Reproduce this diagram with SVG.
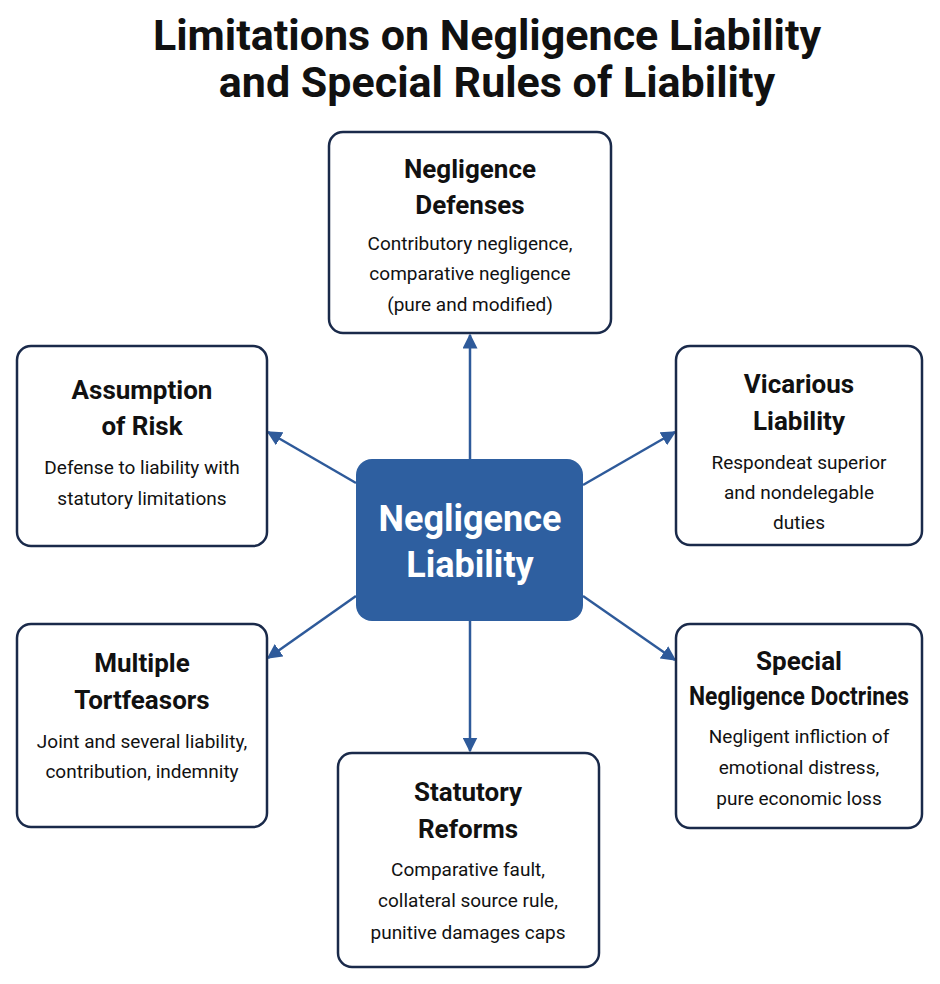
<svg xmlns="http://www.w3.org/2000/svg" width="940" height="984" viewBox="0 0 940 984">
<style>
.box{fill:#fff;stroke:#1a2a4a;stroke-width:2.5}
.t{font-family:Roboto,"Liberation Sans",sans-serif;font-weight:bold;font-size:26px;fill:#111;text-anchor:middle}
.b{font-family:Roboto,"Liberation Sans",sans-serif;font-size:19px;fill:#111;text-anchor:middle}
.h{font-family:Roboto,"Liberation Sans",sans-serif;font-weight:bold;font-size:43px;fill:#111;text-anchor:middle}
.c{stroke:#2e5a9a;stroke-width:2.5;fill:none;marker-end:url(#a)}
</style>
<defs><marker id="a" viewBox="0 0 10 10" refX="9" refY="5" markerWidth="6" markerHeight="6" orient="auto"><path d="M0,0L10,5L0,10z" fill="#2e5a9a"/></marker></defs>
<text class="h" x="487" y="50">Limitations on Negligence Liability</text>
<text class="h" x="497" y="97">and Special Rules of Liability</text>
<g id="connectors">
<line class="c" x1="470" y1="459" x2="470" y2="335"/>
<line class="c" x1="470" y1="621" x2="470" y2="751"/>
<line class="c" x1="356" y1="483" x2="268" y2="432"/>
<line class="c" x1="583" y1="485" x2="675" y2="432"/>
<line class="c" x1="356" y1="596" x2="268" y2="658"/>
<line class="c" x1="583" y1="596" x2="675" y2="660"/>
</g>
<g id="center"><rect x="356" y="459" width="227" height="162" rx="16" fill="#2e5fa0"/>
<text x="470" y="531" font-family="Roboto,'Liberation Sans',sans-serif" font-weight="bold" font-size="36" fill="#fff" text-anchor="middle">Negligence</text>
<text x="470" y="577" font-family="Roboto,'Liberation Sans',sans-serif" font-weight="bold" font-size="36" fill="#fff" text-anchor="middle">Liability</text></g>
<g id="defenses"><rect class="box" x="329" y="132" width="282" height="201" rx="14"/>
<text class="t" x="470" y="178">Negligence</text><text class="t" x="470" y="214">Defenses</text>
<text class="b" x="470" y="250">Contributory negligence,</text><text class="b" x="470" y="280">comparative negligence</text><text class="b" x="470" y="311">(pure and modified)</text></g>
<g id="assumption"><rect class="box" x="17" y="346" width="250" height="200" rx="14"/>
<text class="t" x="142" y="399">Assumption</text><text class="t" x="142" y="435">of Risk</text>
<text class="b" x="142" y="474">Defense to liability with</text><text class="b" x="142" y="505">statutory limitations</text></g>
<g id="vicarious"><rect class="box" x="676" y="346" width="246" height="199" rx="14"/>
<text class="t" x="799" y="393">Vicarious</text><text class="t" x="799" y="430">Liability</text>
<text class="b" x="799" y="469">Respondeat superior</text><text class="b" x="799" y="499">and nondelegable</text><text class="b" x="799" y="529">duties</text></g>
<g id="multiple"><rect class="box" x="17" y="624" width="250" height="203" rx="14"/>
<text class="t" x="142" y="672">Multiple</text><text class="t" x="142" y="709">Tortfeasors</text>
<text class="b" x="142" y="748">Joint and several liability,</text><text class="b" x="142" y="778">contribution, indemnity</text></g>
<g id="special"><rect class="box" x="676" y="624" width="246" height="204" rx="14"/>
<text class="t" x="799" y="670">Special</text><text class="t" x="799" y="705" font-size="23" textLength="220" lengthAdjust="spacingAndGlyphs">Negligence Doctrines</text>
<text class="b" x="799" y="743">Negligent infliction of</text><text class="b" x="799" y="774">emotional distress,</text><text class="b" x="799" y="805">pure economic loss</text></g>
<g id="statutory"><rect class="box" x="338" y="753" width="261" height="214" rx="14"/>
<text class="t" x="468" y="801">Statutory</text><text class="t" x="468" y="838">Reforms</text>
<text class="b" x="468" y="876">Comparative fault,</text><text class="b" x="468" y="907">collateral source rule,</text><text class="b" x="468" y="939">punitive damages caps</text></g>
</svg>
